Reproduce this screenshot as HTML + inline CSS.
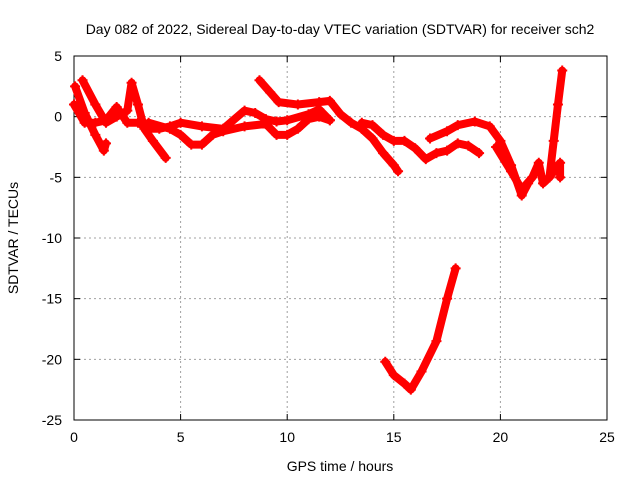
<!DOCTYPE html>
<html><head><meta charset="utf-8"><style>
body{margin:0;background:#fff}
svg text{font-family:"Liberation Sans",sans-serif;font-size:14px;fill:#000}
</style></head><body>
<svg id="chart" width="640" height="480" xmlns="http://www.w3.org/2000/svg">
<rect width="640" height="480" fill="#fff"/>
<g id="grid"></g>
<g id="axes"></g>
<g id="series"></g>
<text x="340" y="34" text-anchor="middle">Day 082 of 2022, Sidereal Day-to-day VTEC variation (SDTVAR) for receiver sch2</text>
<text x="340" y="471" text-anchor="middle">GPS time / hours</text>
<text transform="translate(18,238) rotate(-90)" text-anchor="middle">SDTVAR / TECUs</text>
</svg>
<script>
const xTicks=[0,5,10,15,20,25];
const yTicks=[5,0,-5,-10,-15,-20,-25];
const trackA=[[0.05,2.5],[0.5,0.3],[1,-1.5],[1.4,-2.8],[1.5,-2.2]];
const trackB=[[0.4,3],[1,1],[1.5,-0.5],[2,0],[2.5,0.5],[2.7,2.8],[3,1],[3.3,-1],[3.7,-2],[4.3,-3.4]];
const trackC=[[0,1],[0.5,-0.5],[1,-0.5],[1.5,-0.3],[2,0.8],[2.5,-0.5],[3,-0.5],[3.5,-1],[4,-1],[4.5,-0.8],[5,-0.5],[6,-0.8],[7,-1],[8,0.5],[8.5,0.3],[9,-0.2],[9.5,-0.4],[10,-0.3],[11,0.2],[11.5,0.6],[12,-0.3]];
const trackD=[[3.5,-0.5],[4.5,-1],[5,-1.5],[5.5,-2.3],[6,-2.3],[6.5,-1.5],[7,-1.2],[8,-0.8],[9,-0.6],[9.5,-1.5],[10,-1.5],[10.5,-1],[11,-0.2],[11.5,0],[12,-0.3]];
const trackE=[[8.7,3],[9.2,2],[9.6,1.2],[10.5,1],[11.5,1.2],[12,1.3],[12.5,0.2],[13,-0.5],[13.5,-1],[14,-1.8],[14.5,-3],[15,-4],[15.2,-4.5]];
const trackF=[[13.5,-0.5],[14,-0.7],[14.5,-1.5],[15,-2],[15.5,-2],[16,-2.6],[16.5,-3.5],[17,-3],[17.5,-2.8],[18,-2.2],[18.5,-2.4],[19,-3]];
const trackG=[[16.7,-1.8],[17.5,-1.2],[18,-0.7],[18.8,-0.4],[19.5,-0.8],[20,-2],[20.5,-4],[21,-6.5],[21.3,-5.5]];
const trackH=[[19.8,-2.5],[20.5,-4.5],[21,-6],[21.5,-5],[21.8,-3.8],[22,-5.5],[22.3,-5],[22.8,-3.8],[22.8,-5]];
const trackI=[[22.3,-5],[22.5,-2],[22.7,1],[22.9,3.8]];
const trackJ=[[14.6,-20.2],[15,-21.3],[15.5,-22],[15.8,-22.5],[16.3,-21],[17,-18.5],[17.5,-15],[17.9,-12.5]];
const tracks=[trackA,trackB,trackC,trackD,trackE,trackF,trackG,trackH,trackI,trackJ];
const L=74,R=607,T=56,B=420;
const xs=v=>L+(v-0)/25*(R-L);
const ys=v=>T+(5-v)/30*(B-T);
const NS="http://www.w3.org/2000/svg";
function mk(tag,attrs,parent){const e=document.createElementNS(NS,tag);for(const k in attrs)e.setAttribute(k,attrs[k]);parent.appendChild(e);return e;}
const grid=document.getElementById('grid'),axes=document.getElementById('axes'),ser=document.getElementById('series');
xTicks.forEach(t=>{
  const x=xs(t);
  if(t>0&&t<25){const g=mk('line',{x1:x,x2:x,y1:T,y2:B,stroke:'#a0a0a0','stroke-dasharray':'2,3'},grid);
  
  }
  mk('line',{x1:x,x2:x,y1:B,y2:B-6,stroke:'#000'},axes);
  mk('line',{x1:x,x2:x,y1:T,y2:T+6,stroke:'#000'},axes);
  const tx=mk('text',{x:x,y:B+22,'text-anchor':'middle'},axes);tx.textContent=t;
  
  
});
yTicks.forEach(t=>{
  const y=ys(t);
  if(t<5&&t>-25){const g=mk('line',{x1:L,x2:R,y1:y,y2:y,stroke:'#a0a0a0','stroke-dasharray':'2,3'},grid);
  
  }
  mk('line',{x1:L,x2:L+6,y1:y,y2:y,stroke:'#000'},axes);
  mk('line',{x1:R,x2:R-6,y1:y,y2:y,stroke:'#000'},axes);
  const tx=mk('text',{x:L-12,y:y+5,'text-anchor':'end'},axes);tx.textContent=t;
  
  
});
mk('rect',{x:L,y:T,width:R-L,height:B-T,fill:'none',stroke:'#000'},axes);
tracks.forEach((tr,i)=>{
  const p=mk('polyline',{points:tr.map(d=>xs(d[0])+','+ys(d[1])).join(' '),fill:'none',stroke:'#ff0000','stroke-width':8,'stroke-linejoin':'round','stroke-linecap':'round'},ser);
  
  
  tr.forEach(d=>{
    const m=mk('path',{d:`M${xs(d[0])-5},${ys(d[1])}h10M${xs(d[0])},${ys(d[1])-5}v10`,stroke:'#ff0000','stroke-width':2},ser);
    
    
  });
});
</script>
</body></html>
